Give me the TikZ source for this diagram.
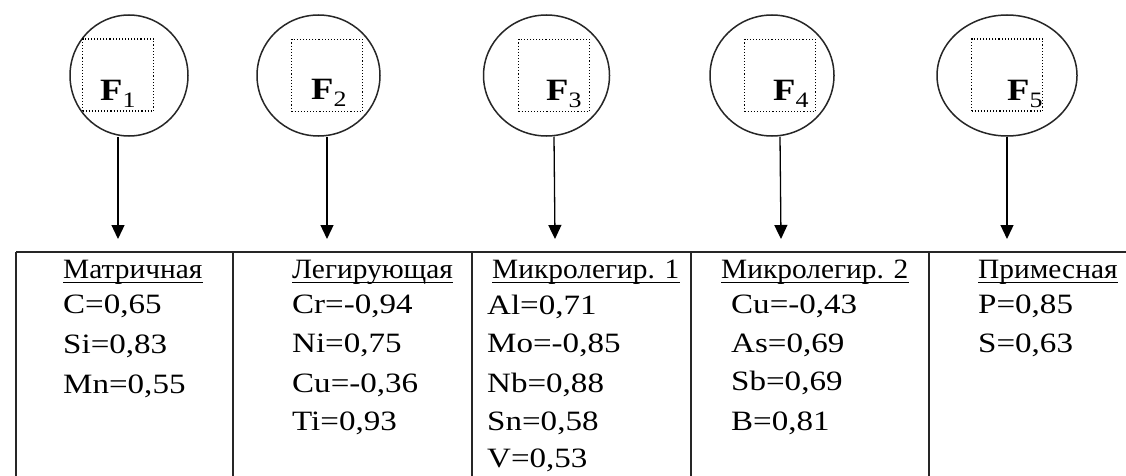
\documentclass[tikz,border=0pt]{standalone}
\usepackage{fontspec}
\setmainfont[FakeStretch=1.18]{Liberation Serif}
\newfontfamily\hdrfont[FakeStretch=1.05]{Liberation Serif}
\usetikzlibrary{arrows.meta,shapes.geometric}
\begin{document}
\begin{tikzpicture}[x=1pt,y=-1pt,
  fac/.style={draw=black!85, line width=1.5pt, ellipse, inner sep=0pt},
  sq/.style={draw, dotted, line width=1.1pt, minimum width=71pt, minimum height=72pt, inner sep=0pt},
  flab/.style={anchor=base west, inner sep=0pt, font=\fontsize{31}{31}\selectfont\bfseries},
  arr/.style={line width=1.3pt, -{Triangle[length=14pt,width=13pt]}},
  grid/.style={line width=1.6pt, black!85},
  cell/.style={anchor=base west, inner sep=0pt, font=\fontsize{28}{28}\selectfont},
  hdr/.style={anchor=base west, inner sep=0pt, font=\fontsize{28}{28}\hdrfont},
  uline/.style={line width=1.2pt}
]
\useasboundingbox[fill=white] (0,0) rectangle (1126,476);
\newcommand{\sub}[1]{\raisebox{-6pt}{\fontsize{22}{22}\mdseries\selectfont #1}}
% factor ellipses
\node[fac, minimum width=118pt, minimum height=121pt] (c1) at (129,75.5) {};
\node[fac, minimum width=123pt, minimum height=121pt] (c2) at (318.5,75.5) {};
\node[fac, minimum width=126pt, minimum height=121pt] (c3) at (546.5,75.5) {};
\node[fac, minimum width=124pt, minimum height=121pt] (c4) at (772,75.5) {};
\node[fac, minimum width=140pt, minimum height=121pt] (c5) at (1007,75.5) {};
% dotted squares
\node[sq] (s1) at (118,75) {};
\node[sq] (s2) at (327,75.5) {};
\node[sq] (s3) at (554,75.5) {};
\node[sq] (s4) at (780,75.5) {};
\node[sq] (s5) at (1007,75) {};
% labels
\node[flab] (f1) at (100,101) {F\sub{1}};
\node[flab] (f2) at (311,100) {F\sub{2}};
\node[flab] (f3) at (546,101) {F\sub{3}};
\node[flab] (f4) at (773,101) {F\sub{4}};
\node[flab] (f5) at (1007,101) {F\sub{5}};
% arrow targets
\coordinate (t1) at (118,239);
\coordinate (t2) at (327,239);
\coordinate (t3) at (555,239);
\coordinate (t4) at (781,239);
\coordinate (t5) at (1007,239);
\foreach \i in {1,...,5} \draw[arr] (s\i |- c\i.south) -- (t\i);
% table
\draw[grid] (16,252) -- (1126,252);
\foreach \x in {16,233,472,691,929} \draw[grid] (\x,252) -- (\x,476);
% headers
\node[hdr] (h1) at (63,278) {Матричная};
\node[hdr] (h2) at (292,278) {Легирующая};
\node[hdr] (h3) at (492,278) {Микролегир. 1};
\node[hdr] (h4) at (721,278) {Микролегир. 2};
\node[hdr] (h5) at (978,278) {Примесная};
\foreach \i in {1,...,5} \draw[uline] ([yshift=-4.5pt]h\i.base west) -- ([yshift=-4.5pt]h\i.base east);
% column 1
\node[cell] (a1) at (63,313) {C=0,65};
\node[cell] (a2) at (63,353) {Si=0,83};
\node[cell] (a3) at (63,393) {Mn=0,55};
% column 2
\node[cell] (b1) at (292,313) {Cr=-0,94};
\node[cell] (b2) at (292,352) {Ni=0,75};
\node[cell] (b3) at (292,392) {Cu=-0,36};
\node[cell] (b4) at (292,430) {Ti=0,93};
% column 3
\node[cell] (m1) at (487,314) {Al=0,71};
\node[cell] (m2) at (487,352) {Mo=-0,85};
\node[cell] (m3) at (487,392) {Nb=0,88};
\node[cell] (m4) at (487,430) {Sn=0,58};
\node[cell] (m5) at (487,467) {V=0,53};
% column 4
\node[cell] (n1) at (731,313) {Cu=-0,43};
\node[cell] (n2) at (731,352) {As=0,69};
\node[cell] (n3) at (731,390) {Sb=0,69};
\node[cell] (n4) at (731,430) {B=0,81};
% column 5
\node[cell] (p1) at (978,313) {P=0,85};
\node[cell] (p2) at (978,352) {S=0,63};
\end{tikzpicture}
\end{document}
